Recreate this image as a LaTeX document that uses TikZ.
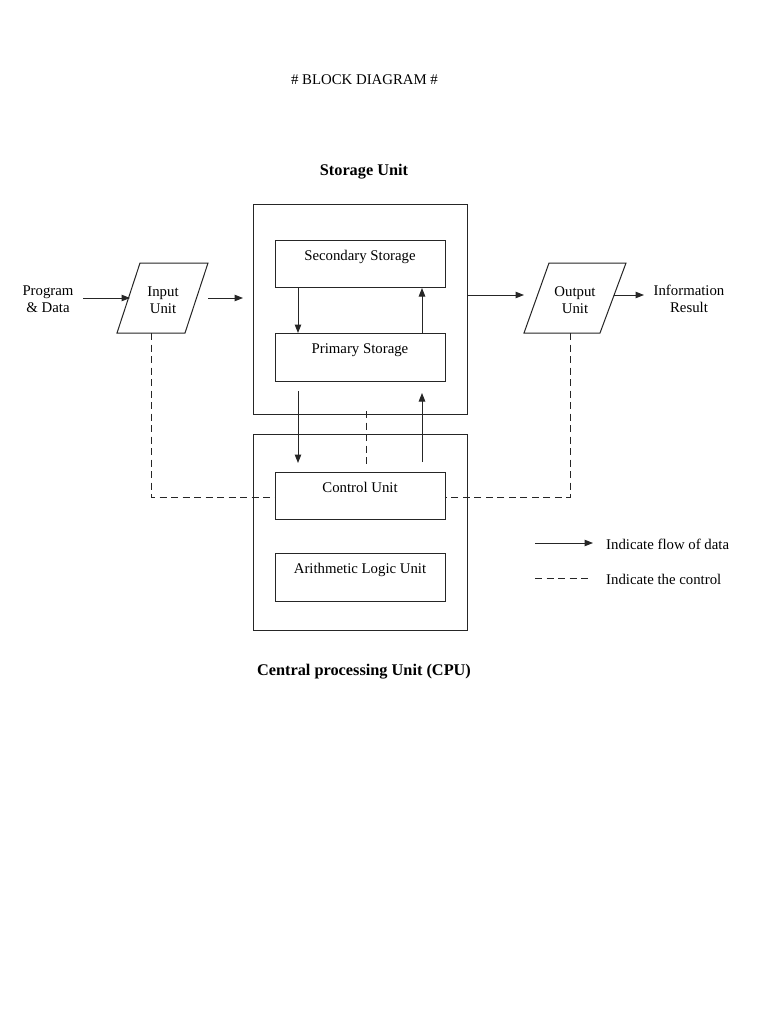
\documentclass[tikz,border=0pt]{standalone}
\usepackage{fontspec}
\setmainfont{Liberation Serif}
\usetikzlibrary{arrows.meta}
\begin{document}
\begin{tikzpicture}[x=1pt,y=-1pt,
  every node/.style={font=\fontsize{14.8}{17}\selectfont},
  ln/.style={line width=1pt, draw=black!85},
  arr/.style={ln, -{Triangle[length=8.5pt,width=6.5pt]}},
  ctl/.style={ln, dash pattern=on 7pt off 4.5pt},
  outer/.style={ln, rectangle, minimum width=214pt, inner sep=0pt},
  inner/.style={ln, rectangle, fill=white, minimum width=170pt, inner sep=0pt, anchor=north, text height=20pt, text depth=27pt},
  head/.style={font=\fontsize{16.3}{19}\selectfont\bfseries},
  txt/.style={align=center, inner sep=0pt}
]
\useasboundingbox (0,0) rectangle (768,1024);
\fill[white] (0,0) rectangle (768,1024);

\node[txt] (title) at (364.5,80) {\# BLOCK DIAGRAM \#};
\node[txt,head] (sulabel) at (364,172) {Storage Unit};
\node[txt,head] (cpulabel) at (364,672) {Central processing Unit (CPU)};

% outer boxes
\node[outer, minimum height=209pt] (storage) at (360,309.5) {};
\node[outer, minimum height=196pt] (cpu) at (360,532) {};

% helper x coordinates
\coordinate (xl) at (298,0);
\coordinate (xr) at (422,0);

% dashed control lines (drawn below inner boxes)
\coordinate (inb) at (151,333);
\coordinate (inc) at (151,497);
\coordinate (outb) at (570,333);
\coordinate (outc) at (570,497);
\coordinate (dmtop) at (366,411);
\coordinate (dmbot) at (366,467);
\draw[ctl] (inb) -- (inc) -- (275,497);
\draw[ctl] (outb) -- (outc) -- (445,497);
\draw[ctl] (dmtop) -- (dmbot);

% inner boxes
\node[inner] (sec) at (360,240) {Secondary Storage};
\node[inner, text depth=28pt] (prim) at (360,333) {Primary Storage};
\node[inner, text height=19.5pt, text depth=27.5pt] (cu) at (360,472) {Control Unit};
\node[inner, text depth=28pt] (alu) at (360,553) {Arithmetic Logic Unit};

% arrows inside storage
\draw[arr] (sec.south -| xl) -- (prim.north -| xl);
\draw[arr] (prim.north -| xr) -- (sec.south -| xr);

% arrows between storage and cpu
\coordinate (d1s) at (298,391);
\coordinate (d1e) at (298,463);
\coordinate (u1s) at (422,462);
\coordinate (u1e) at (422,393);
\draw[arr] (d1s) -- (d1e);
\draw[arr] (u1s) -- (u1e);

% input unit
\coordinate (i1) at (140,263);
\coordinate (i2) at (208,263);
\coordinate (i3) at (185,333);
\coordinate (i4) at (117,333);
\draw[ln] (i1) -- (i2) -- (i3) -- (i4) -- cycle;
\node[txt] (inlabel) at (163,300) {Input\\Unit};
\node[txt] (prog) at (48,299) {Program\\\& Data};
\coordinate (pa) at (83,298);
\coordinate (pb) at (130,298);
\draw[arr] (pa) -- (pb);
\coordinate (ia) at (208,298);
\coordinate (ib) at (243,298);
\draw[arr] (ia) -- (ib);

% output unit
\coordinate (o1) at (549,263);
\coordinate (o2) at (626,263);
\coordinate (o3) at (600,333);
\coordinate (o4) at (524,333);
\draw[ln] (o1) -- (o2) -- (o3) -- (o4) -- cycle;
\node[txt] (outlabel) at (575,300) {Output\\Unit};
\coordinate (oa) at (524,295);
\draw[arr] (storage.east |- oa) -- (oa);
\coordinate (ob) at (614,295);
\coordinate (oc) at (644,295);
\draw[arr] (ob) -- (oc);
\node[txt] (info) at (689,299) {Information\\Result};

% legend
\coordinate (l1a) at (535,543);
\coordinate (l1b) at (593,543);
\draw[arr] (l1a) -- (l1b);
\node[txt, anchor=west] (leg1) at (606,544) {Indicate flow of data};
\coordinate (l2a) at (535,578);
\coordinate (l2b) at (590,578);
\draw[ctl] (l2a) -- (l2b);
\node[txt, anchor=west] (leg2) at (606,579) {Indicate the control};
\end{tikzpicture}
\end{document}
